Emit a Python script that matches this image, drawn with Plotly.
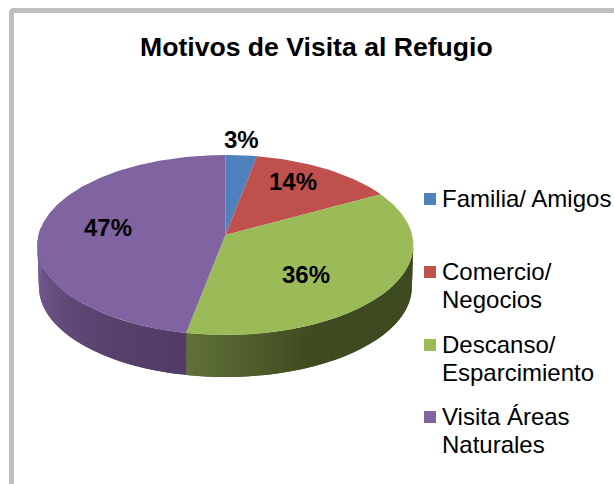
import numpy as np
import plotly.graph_objects as go

# ---- data ----
categories = ["Familia/ Amigos", "Comercio/<br>Negocios", "Descanso/<br>Esparcimiento", "Visita Áreas<br>Naturales"]
values = [3, 14, 36, 47]
colors = ["#4f81bd", "#c0504d", "#9bbb59", "#8064a2"]

# ---- style / layout (canvas pixels) ----
W, H = 614, 484
FONT = "Liberation Sans, Arial, sans-serif"
X0, Y0 = 225.4, 235.0      # apex of the pie
A, B, P = 186.8, 88.9, 1 / 9  # perspective projection of the unit disc
DEPTH = 42.0
label_xy = [(241, 139), (293, 181), (306, 274), (108, 227)]
legend_marker_y = [199, 272, 345, 417]
LEGEND_MARKER_X, LEGEND_TEXT_X, LINE_H = 430, 440, 28.5


def project(theta, r=1.0, drop=0.0):
    u, v = r * np.sin(theta), r * np.cos(theta)
    w = 1 + P * v
    return X0 + A * u / w, Y0 - B * v / w + drop


def mix(c1, c2, t):
    a = [int(c1[i:i + 2], 16) for i in (1, 3, 5)]
    b = [int(c2[i:i + 2], 16) for i in (1, 3, 5)]
    return "rgb(%d,%d,%d)" % tuple(round(p + (q - p) * t) for p, q in zip(a, b))


fig = go.Figure()


def poly(xs, ys, color):
    fig.add_trace(go.Scatter(
        x=list(xs), y=list(ys), mode="lines", fill="toself", fillcolor=color,
        line=dict(color=color, width=0), hoverinfo="skip", showlegend=False))


fractions = np.cumsum([0] + values) / sum(values)
angles = 2 * np.pi * fractions

# side wall: only the front half of the disc, as shaded strips
split = angles[3]              # boundary between green and purple on the front
left_end = 3 * np.pi / 2 + 0.085
right_end = np.pi / 2 + 0.10


def side_strips(t0, t1, n, shade):
    ts = np.linspace(t0, t1, n + 1)
    for i in range(n):
        # each strip runs on under the next one, so no seam can show
        seg = np.linspace(ts[i], ts[min(i + 2, n)], 5)
        xt, yt = project(seg)
        xb, yb = project(seg, drop=DEPTH)
        xb = X0 + (xb - X0) * 0.992
        poly(np.r_[xt, xb[::-1]], np.r_[yt, yb[::-1]], shade(i / (n - 1)))


side_strips(right_end, split, 45,
            lambda t: "#3e4a20" if t < 0.62 else mix("#3e4a20", "#5f7036", (t - 0.62) / 0.38))
side_strips(split, left_end, 45, lambda t: mix("#533d66", "#7a5f98", min(1, (1 - np.cos(t * np.pi / 2)) + 0.15 * t)))

# top face of each slice
for i, col in enumerate(colors):
    n = max(8, int(values[i] * 4))
    ts = np.linspace(angles[i], angles[i + 1], n)
    xs, ys = project(ts)
    poly(np.r_[X0, xs, X0], np.r_[Y0, ys, Y0], col)

# legend markers
fig.add_trace(go.Scatter(
    x=[LEGEND_MARKER_X] * len(categories), y=legend_marker_y, mode="markers",
    marker=dict(symbol="square", size=12, color=colors, line=dict(width=0)),
    hoverinfo="skip", showlegend=False))

ann = []
for v, (lx, ly) in zip(values, label_xy):
    ann.append(dict(x=lx, y=ly, text=f"{v}%", showarrow=False, xanchor="center", yanchor="middle",
                    font=dict(family=FONT, size=24, color="#000000", weight="bold")))
for cat, my in zip(categories, legend_marker_y):
    for j, line in enumerate(cat.split("<br>")):
        ann.append(dict(x=LEGEND_TEXT_X, y=my - 1 + j * LINE_H, text=line, showarrow=False,
                        xanchor="left", yanchor="middle",
                        font=dict(family=FONT, size=24, color="#000000")))
ann.append(dict(x=316, y=47, text="Motivos de Visita al Refugio", showarrow=False, xanchor="center",
                yanchor="middle", font=dict(family=FONT, size=26.6, color="#000000", weight="bold")))

fig.update_layout(
    width=W, height=H, autosize=False, margin=dict(l=0, r=0, t=0, b=0),
    paper_bgcolor="#ffffff", plot_bgcolor="#ffffff",
    xaxis=dict(range=[0, W], visible=False, fixedrange=True),
    yaxis=dict(range=[H, 0], visible=False, fixedrange=True),
    annotations=ann,
    shapes=[dict(type="path", path="M 11.5 500 L 11.5 13 Q 11.5 10.5 14 10.5 L 640 10.5",
                 line=dict(color="#bfbfbf", width=5), layer="below")],
)
fig.write_html("out.html", config=dict(displayModeBar=False),
               post_script="document.body.style.margin='0';document.body.style.overflow='hidden';")
